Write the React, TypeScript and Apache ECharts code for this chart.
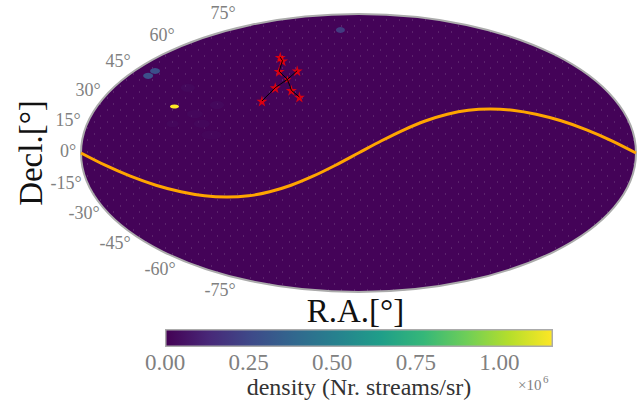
import React, { useEffect, useRef } from "react";
import * as echarts from "echarts";

// All map data is in Mollweide plane units: x and y both span -1..1 across the ellipse.
const eclipticX = [-1, -0.913, -0.822, -0.73, -0.64, -0.555, -0.474, -0.396, -0.32, -0.243, -0.164, -0.083, 0, 0.083, 0.164, 0.243, 0.32, 0.396, 0.474, 0.555, 0.64, 0.73, 0.822, 0.913, 1];
const eclipticY = [0, -0.088, -0.167, -0.232, -0.279, -0.308, -0.317, -0.308, -0.279, -0.232, -0.167, -0.088, 0, 0.088, 0.167, 0.232, 0.279, 0.308, 0.317, 0.308, 0.279, 0.232, 0.167, 0.088, 0];

const streamA = [[-0.348, 0.374], [-0.3, 0.47], [-0.256, 0.53], [-0.221, 0.592]];
const streamB = [[-0.282, 0.689], [-0.274, 0.664], [-0.286, 0.588], [-0.256, 0.53], [-0.242, 0.451], [-0.213, 0.403]];
const starPoints = [[-0.282, 0.689], [-0.274, 0.664], [-0.286, 0.588], [-0.221, 0.592], [-0.3, 0.47], [-0.242, 0.451], [-0.213, 0.403], [-0.348, 0.374]];
const crossing = [[-0.256, 0.53]];

// x, y, density, pixel width, pixel height
const blobs = [
  [-0.663, 0.335, 1.16, 9, 4],
  [-0.733, 0.59, 0.28, 10, 6],
  [-0.758, 0.555, 0.28, 10, 6],
  [-0.065, 0.885, 0.2, 9, 6],
  [-0.615, 0.47, 0.06, 14, 8],
  [-0.51, 0.345, 0.06, 14, 8],
  [-0.59, 0.28, 0.05, 16, 8],
  [-0.565, 0.21, 0.05, 16, 8],
  [-0.67, 0.21, 0.05, 12, 7],
  [-0.53, 0.13, 0.04, 20, 9],
];

const densityMax = 1.16;
const densityTicksInterval = 0.25;
const viridis = ["#440154", "#482878", "#3e4a89", "#31688e", "#26828e", "#1f9e89", "#35b779", "#6ece58", "#b5de2b", "#fde725"];

const decLabels = ["75°", "60°", "45°", "30°", "15°", "0°", "-15°", "-30°", "-45°", "-60°", "-75°"];
const xName = "R.A.[°]";
const yName = "Decl.[°]";
const cbName = "density (Nr. streams/sr)";

const FONT = "'Liberation Serif', serif";
const GRAY = "#808080";
const STAR = "path://M50 0 L61 35 L98 35 L68 57 L79 92 L50 71 L21 92 L32 57 L2 35 L39 35 Z";

function densityColor(v: number) {
  const t = Math.min(1, v / densityMax) * (viridis.length - 1);
  const i = Math.min(viridis.length - 2, Math.floor(t));
  const f = t - i;
  const p = (h: string) => [1, 3, 5].map((k) => parseInt(h.slice(k, k + 2), 16));
  const a = p(viridis[i]);
  const b = p(viridis[i + 1]);
  return `rgb(${a.map((c, k) => Math.round(c + (b[k] - c) * f)).join(",")})`;
}

function makeTexture() {
  const c = document.createElement("canvas");
  c.width = 26;
  c.height = 24;
  const g = c.getContext("2d")!;
  g.fillStyle = "#440358";
  g.fillRect(0, 0, 26, 24);
  g.fillStyle = "rgba(255,255,255,0.13)";
  [[3, 1], [16, 1], [9, 7], [22, 7], [3, 13], [16, 13], [9, 19], [22, 19]].forEach(([x, y]) => g.fillRect(x, y, 1, 2));
  return c;
}

export default function App() {
  const ref = useRef<HTMLDivElement>(null);
  useEffect(() => {
    const chart = echarts.init(ref.current!, undefined, { renderer: "svg" });
    const texture = makeTexture();
    const labelCenters = [[223, 13], [162, 35], [118, 61], [88, 90], [68, 120], [68, 151], [66, 183], [84, 213], [115, 243], [160, 269], [220, 290]];
    chart.setOption({
      animation: false,
      grid: [
        { left: 81, top: 14, width: 555, height: 278, outerBoundsMode: "none" },
        { left: 165, top: 329, width: 388, height: 18, outerBoundsMode: "none" },
      ],
      xAxis: [
        {
          type: "value", gridIndex: 0, min: -1, max: 1, z: 20,
          axisLine: { show: false }, axisTick: { show: false }, axisLabel: { show: false }, splitLine: { show: false },
          name: xName, nameLocation: "middle", nameGap: 2,
          nameTextStyle: { fontFamily: FONT, fontSize: 33, color: "#111", align: "center", verticalAlign: "top", padding: [0, 6, 0, 0] },
        },
        {
          type: "value", gridIndex: 1, min: 0, max: densityMax, interval: densityTicksInterval,
          axisLine: { show: false }, axisTick: { show: false }, splitLine: { show: false },
          axisLabel: {
            fontFamily: FONT, fontSize: 23, color: GRAY, margin: 4, showMaxLabel: false,
            formatter: (v: number) => v.toFixed(2),
          },
          name: cbName, nameLocation: "middle", nameGap: 27,
          nameTextStyle: { fontFamily: FONT, fontSize: 24, color: "#333" },
        },
      ],
      yAxis: [
        {
          type: "value", gridIndex: 0, min: -1, max: 1,
          axisLine: { show: false }, axisTick: { show: false }, axisLabel: { show: false }, splitLine: { show: false },
          name: yName, nameLocation: "middle", nameGap: 34, nameRotate: 90,
          nameTextStyle: { fontFamily: FONT, fontSize: 33, color: "#111" },
        },
        { type: "category", gridIndex: 1, data: [""], show: false },
      ],
      series: [
        {
          type: "custom", xAxisIndex: 0, yAxisIndex: 0, data: [[0, 0]], silent: true, z: 1, clip: false,
          renderItem: (_p: any, api: any) => {
            const [cx, cy] = api.coord([0, 0]);
            const [w, h] = api.size([1, 1]);
            return {
              type: "ellipse",
              shape: { cx, cy, rx: w, ry: h },
              style: { fill: { image: texture, repeat: "repeat" }, stroke: "#ababab", lineWidth: 2 },
            };
          },
        },
        {
          type: "scatter", xAxisIndex: 0, yAxisIndex: 0, z: 2, silent: true,
          data: blobs.map((b) => ({
            value: [b[0], b[1]],
            symbolSize: [b[3], b[4]],
            itemStyle: { color: densityColor(b[2]), opacity: b[2] < 0.1 ? 0.35 : 1 },
          })),
        },
        {
          type: "line", xAxisIndex: 0, yAxisIndex: 0, z: 3, smooth: 0.3, showSymbol: false, silent: true,
          data: eclipticX.map((x, i) => [x, eclipticY[i]]),
          lineStyle: { color: "#ffa500", width: 3 },
        },
        {
          type: "scatter", xAxisIndex: 0, yAxisIndex: 0, z: 4, silent: true, symbol: STAR, symbolSize: 11,
          data: starPoints, itemStyle: { color: "#ff0000" },
        },
        {
          type: "scatter", xAxisIndex: 0, yAxisIndex: 0, z: 4, silent: true, symbol: STAR, symbolSize: 8,
          data: crossing, itemStyle: { color: "#ff0000" },
        },
        ...[streamA, streamB].map((s) => ({
          type: "line", xAxisIndex: 0, yAxisIndex: 0, z: 5, showSymbol: false, silent: true,
          data: s, lineStyle: { color: "#000", width: 1 },
        })),
        {
          type: "bar", xAxisIndex: 1, yAxisIndex: 1, barWidth: "100%", silent: true,
          data: [densityMax],
          itemStyle: {
            borderColor: "#ababab", borderWidth: 1.5,
            color: new echarts.graphic.LinearGradient(0, 0, 1, 0,
              viridis.map((c, i) => ({ offset: i / (viridis.length - 1), color: c }))),
          },
        },
      ],
      graphic: [
        ...decLabels.map((t, i) => ({
          type: "text", x: labelCenters[i][0], y: labelCenters[i][1], silent: true,
          style: { text: t, fontFamily: FONT, fontSize: 18, fill: GRAY, align: "center", verticalAlign: "middle" },
        })),
        {
          type: "text", x: 518, y: 377, silent: true,
          style: { text: "×10", fontFamily: FONT, fontSize: 15, fill: GRAY },
        },
        {
          type: "text", x: 543, y: 373, silent: true,
          style: { text: "6", fontFamily: FONT, fontSize: 11, fill: GRAY },
        },
      ],
    });
    return () => chart.dispose();
  }, []);
  return <div ref={ref} style={{ position: "absolute", left: 0, top: 0, width: 641, height: 400 }} />;
}
